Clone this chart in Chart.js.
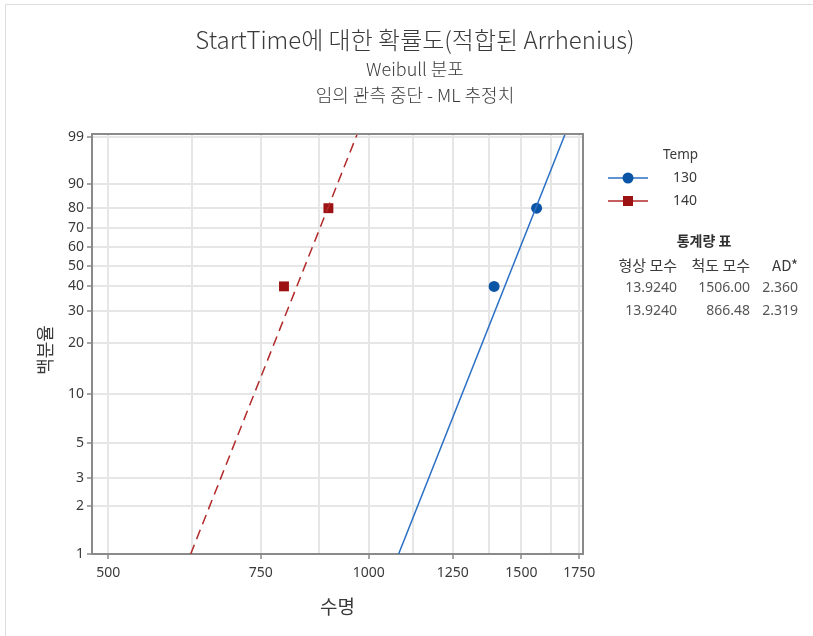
<!DOCTYPE html>
<html>
<head>
<meta charset="utf-8">
<script src="https://cdn.jsdelivr.net/npm/chart.js@4/dist/chart.umd.min.js"></script>
<style>
  html, body { margin: 0; padding: 0; background: #ffffff; }
  #wrap { width: 813px; height: 636px; position: relative; }
</style>
</head>
<body>
<div id="wrap"><canvas id="c" width="813" height="636"></canvas></div>
<script>
// Temperature groups and their observed failure points (life, cumulative percent)
const groups = ['130', '140'];
const life130 = [1395, 1562];
const pct130 = [40, 80];
const life140 = [798, 898];
const pct140 = [40, 80];

// Fitted Arrhenius–Weibull parameters per group
const shapeParams = [13.9240, 13.9240];
const scaleParams = [1506.00, 866.48];
const adValues = [2.360, 2.319];

// Axis ticks
const yTickPct = [1, 2, 3, 5, 10, 20, 30, 40, 50, 60, 70, 80, 90, 99];
const xGridValues = [500, 625, 750, 875, 1000, 1125, 1250, 1375, 1500, 1625, 1750];
const xTickLabels = [500, 750, 1000, 1250, 1500, 1750];

// Text
const titleText = 'StartTime에 대한 확률도(적합된 Arrhenius)';
const subtitleLines = ['Weibull 분포', '임의 관측 중단 - ML 추정치'];
const xTitle = '수명';
const yTitle = '백분율';
const legendTitle = 'Temp';
const tableTitle = '통계량 표';
const tableHeads = ['형상 모수', '척도 모수', 'AD*'];

const BLUE_PT = '#0b55a6';
const BLUE_LN = '#2a6fc4';
const RED_PT = '#9c1212';
const RED_LN = '#b22a2a';
const TEXT = '#3a3a3a';
const AXIS = '#8a8a8a';
const GRID = '#e6e6e6';
const LATIN = "'Noto Sans', 'Noto Sans CJK KR', sans-serif";
const KR = "'Noto Sans CJK KR', 'Noto Sans', sans-serif";

// Weibull probability scale: ln(-ln(1 - p))
const wb = p => Math.log(-Math.log(1 - p / 100));
const Y_MIN = wb(1);
const Y_MAX = 1.565;

// Fitted line endpoints: life at the bottom and top of the probability axis
const fitLine = (shape, scale) => [Y_MIN, Y_MAX].map(w => ({ x: scale * Math.exp(w / shape), y: w }));
const toPoints = (xs, ps) => xs.map((x, i) => ({ x: x, y: wb(ps[i]) }));

const decorations = {
  id: 'decorations',
  afterDraw(chart) {
    const ctx = chart.ctx;
    const a = chart.chartArea;
    ctx.save();

    // outer frame edges
    ctx.strokeStyle = '#dedede';
    ctx.lineWidth = 1;
    ctx.beginPath();
    ctx.moveTo(5.5, 636); ctx.lineTo(5.5, 4.5); ctx.lineTo(813, 4.5);
    ctx.stroke();

    // top and right edges of the plot box
    ctx.strokeStyle = AXIS;
    ctx.lineWidth = 2;
    ctx.beginPath();
    ctx.moveTo(a.left - 1, a.top); ctx.lineTo(a.right, a.top); ctx.lineTo(a.right, a.bottom + 1);
    ctx.stroke();

    // titles
    ctx.fillStyle = TEXT;
    ctx.textAlign = 'center';
    ctx.textBaseline = 'middle';
    ctx.font = `300 24px ${KR}`;
    ctx.fillText(titleText, 415, 40);
    ctx.font = `300 18px ${KR}`;
    ctx.fillText(subtitleLines[0], 415, 69);
    ctx.fillText(subtitleLines[1], 415, 95);

    // axis titles
    ctx.font = `19px ${KR}`;
    ctx.fillText(xTitle, (a.left + a.right) / 2, 607);
    ctx.save();
    ctx.translate(45, (a.top + a.bottom) / 2 + 6);
    ctx.rotate(-Math.PI / 2);
    ctx.font = `18px ${KR}`;
    ctx.fillText(yTitle, 0, 0);
    ctx.restore();

    // legend
    ctx.font = `13.5px ${LATIN}`;
    ctx.textAlign = 'left';
    ctx.fillText(legendTitle, 663, 155);
    const rows = [
      { y: 178, ln: BLUE_LN, pt: BLUE_PT, shape: 'circle' },
      { y: 201, ln: RED_LN, pt: RED_PT, shape: 'rect' }
    ];
    rows.forEach((r, i) => {
      ctx.strokeStyle = r.ln;
      ctx.lineWidth = 1.5;
      ctx.beginPath();
      ctx.moveTo(608, r.y); ctx.lineTo(648, r.y);
      ctx.stroke();
      ctx.fillStyle = r.pt;
      if (r.shape === 'circle') {
        ctx.beginPath(); ctx.arc(628, r.y, 5.5, 0, Math.PI * 2); ctx.fill();
      } else {
        ctx.fillRect(623, r.y - 5, 10, 10);
      }
      ctx.fillStyle = TEXT;
      ctx.font = `14px ${LATIN}`;
      ctx.fillText(groups[i], 673, r.y);
    });

    // statistics table
    ctx.fillStyle = '#2e2e2e';
    ctx.textAlign = 'center';
    ctx.font = `bold 14px ${KR}`;
    ctx.fillText(tableTitle, 704, 241);
    ctx.fillStyle = TEXT;
    ctx.font = `15px ${KR}`;
    ctx.textAlign = 'right';
    const colRight = [677, 750, 798];
    tableHeads.forEach((h, i) => ctx.fillText(h, colRight[i], 265));
    ctx.font = `14px ${LATIN}`;
    ctx.fillStyle = '#555555';
    const rowY = [288, 311];
    groups.forEach((g, i) => {
      ctx.fillText(shapeParams[i].toFixed(4), colRight[0], rowY[i]);
      ctx.fillText(scaleParams[i].toFixed(2), colRight[1], rowY[i]);
      ctx.fillText(adValues[i].toFixed(3), colRight[2], rowY[i]);
    });

    ctx.restore();
  }
};

new Chart(document.getElementById('c'), {
  type: 'scatter',
  data: {
    datasets: [
      {
        label: groups[0] + ' fit',
        data: fitLine(shapeParams[0], scaleParams[0]),
        showLine: true,
        borderColor: BLUE_LN,
        borderWidth: 1.5,
        pointRadius: 0
      },
      {
        label: groups[1] + ' fit',
        data: fitLine(shapeParams[1], scaleParams[1]),
        showLine: true,
        borderColor: RED_LN,
        borderWidth: 1.5,
        borderDash: [10, 6],
        pointRadius: 0
      },
      {
        label: groups[0],
        data: toPoints(life130, pct130),
        pointStyle: 'circle',
        pointRadius: 5.5,
        backgroundColor: BLUE_PT,
        borderColor: BLUE_PT,
        borderWidth: 0
      },
      {
        label: groups[1],
        data: toPoints(life140, pct140),
        pointStyle: 'rect',
        pointRadius: 7,
        backgroundColor: RED_PT,
        borderColor: RED_PT,
        borderWidth: 0
      }
    ]
  },
  options: {
    responsive: false,
    animation: false,
    layout: { padding: { left: 0, right: 230, top: 134, bottom: 0 } },
    plugins: {
      legend: { display: false },
      tooltip: { enabled: false },
      title: { display: false }
    },
    scales: {
      x: {
        type: 'logarithmic',
        min: 479,
        max: 1767,
        afterFit(s) { s.height = 82; },
        afterBuildTicks(s) { s.ticks = xGridValues.map(v => ({ value: v })); },
        grid: {
          color: GRID,
          lineWidth: 2,
          tickLength: 5,
          tickWidth: 1.5,
          tickColor: c => (c.tick && xTickLabels.includes(c.tick.value)) ? AXIS : 'rgba(0,0,0,0)'
        },
        border: { color: AXIS, width: 2 },
        ticks: {
          autoSkip: false,
          maxRotation: 0,
          padding: 6,
          color: TEXT,
          font: { family: LATIN, size: 14 },
          callback: v => xTickLabels.includes(v) ? String(v) : ''
        }
      },
      y: {
        type: 'linear',
        min: Y_MIN,
        max: Y_MAX,
        afterFit(s) { s.width = 92; },
        afterBuildTicks(s) { s.ticks = yTickPct.map(p => ({ value: wb(p) })); },
        grid: {
          color: GRID,
          lineWidth: 2,
          tickLength: 5,
          tickWidth: 1.5,
          tickColor: AXIS
        },
        border: { color: AXIS, width: 2 },
        ticks: {
          autoSkip: false,
          padding: 3,
          color: TEXT,
          font: { family: LATIN, size: 14 },
          callback: (v, i) => String(yTickPct[i])
        }
      }
    }
  },
  plugins: [decorations]
});
</script>
</body>
</html>
